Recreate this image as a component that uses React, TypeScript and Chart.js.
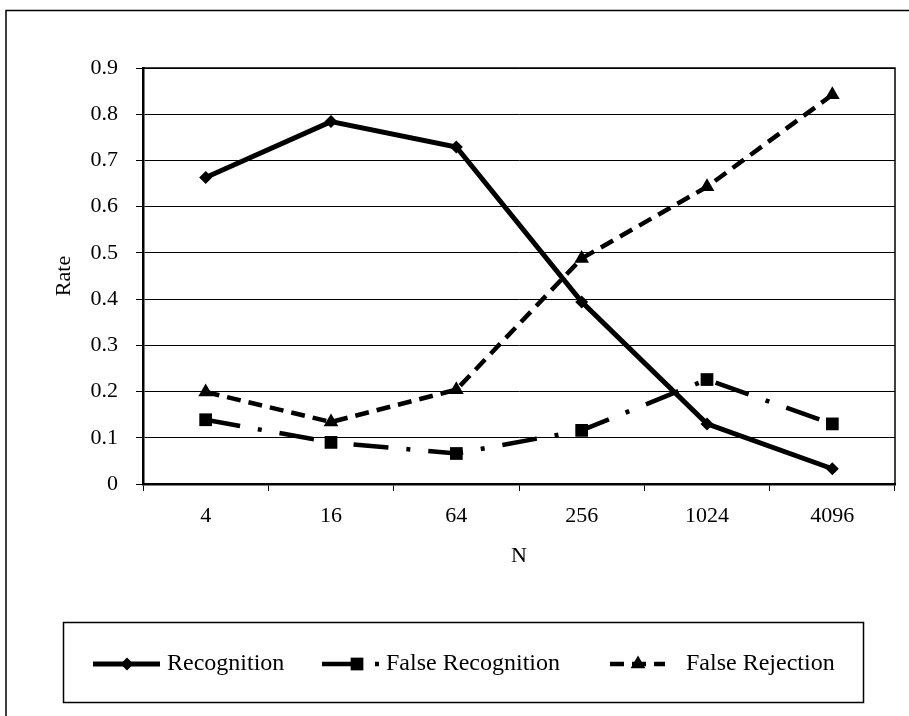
import React, { useEffect, useRef } from "react";
import { Chart, registerables } from "chart.js";

Chart.register(...registerables);

// N values on the x axis
const categories = ["4", "16", "64", "256", "1024", "4096"];

// Rates per N
const recognition = [0.663, 0.784, 0.729, 0.394, 0.13, 0.033];
const falseRecognition = [0.139, 0.09, 0.066, 0.116, 0.226, 0.13];
const falseRejection = [0.199, 0.134, 0.204, 0.488, 0.643, 0.842];

const seriesNames = ["Recognition", "False Recognition", "False Rejection"];

const yMin = 0;
const yMax = 0.9;
const yStep = 0.1;

const SERIF = '"Liberation Serif", "Times New Roman", serif';
const INK = "#000000";

const dashStyles: number[][] = [[], [35, 18, 4, 18], [14, 8]];
const pointStyles = ["rectRot", "rect", "triangle"];
const pointRadii = [6.5, 9, 8.5];
const lineWidths = [5, 4.5, 4.5];

function drawMarker(ctx: CanvasRenderingContext2D, style: string, x: number, y: number, r: number) {
  ctx.save();
  ctx.fillStyle = INK;
  ctx.setLineDash([]);
  ctx.beginPath();
  if (style === "rectRot") {
    ctx.moveTo(x, y - r);
    ctx.lineTo(x + r, y);
    ctx.lineTo(x, y + r);
    ctx.lineTo(x - r, y);
  } else if (style === "rect") {
    const s = r * Math.SQRT1_2;
    ctx.rect(x - s, y - s, 2 * s, 2 * s);
  } else {
    ctx.moveTo(x, y - r);
    ctx.lineTo(x + (r * Math.sqrt(3)) / 2, y + r / 2);
    ctx.lineTo(x - (r * Math.sqrt(3)) / 2, y + r / 2);
  }
  ctx.closePath();
  ctx.fill();
  ctx.restore();
}

// Frame around the figure, box around the plot area and the legend below it
const decorations = {
  id: "decorations",
  beforeDraw(chart: any) {
    const { ctx } = chart;
    ctx.save();
    ctx.fillStyle = "#ffffff";
    ctx.fillRect(0, 0, chart.width, chart.height);
    ctx.strokeStyle = INK;
    ctx.lineWidth = 1.5;
    ctx.beginPath();
    ctx.moveTo(6, chart.height);
    ctx.lineTo(6, 10.5);
    ctx.lineTo(chart.width, 10.5);
    ctx.stroke();
    ctx.restore();
  },
  beforeDatasetsDraw(chart: any) {
    const { ctx, chartArea: a } = chart;
    ctx.save();
    ctx.strokeStyle = INK;
    ctx.lineWidth = 1.5;
    ctx.beginPath();
    ctx.moveTo(a.left, a.top);
    ctx.lineTo(a.right, a.top);
    ctx.lineTo(a.right, a.bottom);
    ctx.stroke();
    ctx.restore();
  },
  afterDraw(chart: any) {
    const { ctx } = chart;
    ctx.save();
    ctx.strokeStyle = INK;
    ctx.lineWidth = 1.5;
    ctx.strokeRect(63.5, 622.5, 800, 80);

    const cy = 664;
    const items = [
      { from: 93, to: 160, marker: 127, text: 167 },
      { from: 322, to: 384, marker: 357, text: 386 },
      { from: 610, to: 665, marker: 638, text: 686 },
    ];
    items.forEach((it, i) => {
      ctx.save();
      ctx.strokeStyle = INK;
      ctx.lineWidth = lineWidths[i];
      ctx.lineCap = "butt";
      ctx.setLineDash(dashStyles[i]);
      ctx.beginPath();
      ctx.moveTo(it.from, cy);
      ctx.lineTo(it.to, cy);
      ctx.stroke();
      ctx.restore();
      drawMarker(ctx, pointStyles[i], it.marker, cy, pointRadii[i]);
      ctx.fillStyle = INK;
      ctx.font = `24px ${SERIF}`;
      ctx.textBaseline = "middle";
      ctx.textAlign = "left";
      ctx.fillText(seriesNames[i], it.text, cy);
    });
    ctx.restore();
  },
};

export default function App() {
  const canvasRef = useRef<HTMLCanvasElement | null>(null);

  useEffect(() => {
    const canvas = canvasRef.current;
    if (!canvas) return;
    const seriesValues = [recognition, falseRecognition, falseRejection];

    const chart = new Chart(canvas, {
      type: "line",
      data: {
        labels: categories,
        datasets: seriesValues.map((values, i) => ({
          label: seriesNames[i],
          data: values,
          borderColor: INK,
          backgroundColor: INK,
          borderWidth: lineWidths[i],
          borderDash: dashStyles[i],
          borderCapStyle: "butt",
          tension: 0,
          fill: false,
          pointStyle: pointStyles[i],
          pointRadius: pointRadii[i],
          pointBackgroundColor: INK,
          pointBorderColor: INK,
          pointBorderWidth: 0,
        })),
      },
      options: {
        animation: false,
        responsive: false,
        devicePixelRatio: 1,
        events: [],
        layout: { padding: { top: 68, right: 14, left: 0, bottom: 132 } },
        plugins: {
          legend: { display: false },
          tooltip: { enabled: false },
          title: { display: false },
        },
        scales: {
          x: {
            type: "category",
            offset: true,
            afterFit: (scale: any) => {
              scale.height = 100;
            },
            grid: {
              offset: true,
              drawOnChartArea: false,
              drawTicks: true,
              tickLength: 7,
              color: INK,
              lineWidth: 1,
            },
            border: { display: true, color: INK, width: 2.5 },
            ticks: {
              color: INK,
              font: { family: SERIF, size: 22 },
              padding: 12,
              maxRotation: 0,
            },
            title: {
              display: true,
              text: "N",
              color: INK,
              font: { family: SERIF, size: 22 },
              padding: { top: 0, bottom: 15 },
            },
          },
          y: {
            type: "linear",
            min: yMin,
            max: yMax,
            afterFit: (scale: any) => {
              scale.width = 143;
            },
            grid: {
              drawTicks: true,
              tickLength: 7,
              color: INK,
              lineWidth: 1,
            },
            border: { display: true, color: INK, width: 2.5 },
            ticks: {
              stepSize: yStep,
              color: INK,
              font: { family: SERIF, size: 22 },
              padding: 18,
              callback: (v: any) => {
                const n = Math.round(Number(v) * 10) / 10;
                return n === 0 ? "0" : n.toFixed(1);
              },
            },
            title: {
              display: true,
              text: "Rate",
              color: INK,
              font: { family: SERIF, size: 22 },
              padding: { top: 51, bottom: 0 },
            },
          },
        },
      },
      plugins: [decorations],
    });

    return () => chart.destroy();
  }, []);

  return (
    <div style={{ position: "fixed", left: 0, top: 0, width: 909, height: 716, background: "#fff" }}>
      <canvas ref={canvasRef} width={909} height={716} style={{ display: "block" }} />
    </div>
  );
}
